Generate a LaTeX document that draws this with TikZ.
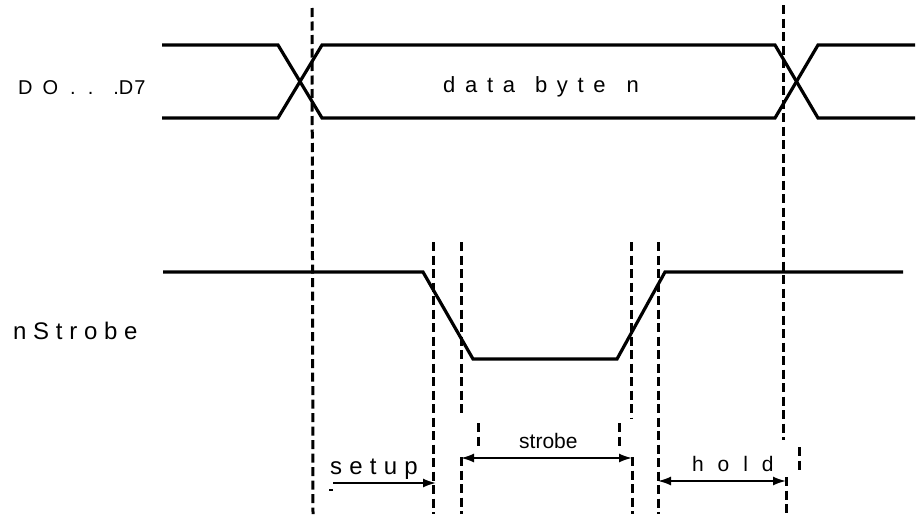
\documentclass[tikz,border=0pt]{standalone}
\usepackage{fontspec}
\setmainfont{Liberation Sans}
\usetikzlibrary{arrows.meta, positioning}

\begin{document}
\begin{tikzpicture}[x=1pt, y=-1pt,
every node/.style={inner sep=0pt, anchor=base west, font=\fontsize{20}{22}\selectfont},
sig/.style={line width=3.2pt, line join=miter},
guide/.style={line width=3pt, dash pattern=on 9pt off 4.5pt},
dim/.style={line width=1.8pt, -{Latex[length=13pt, width=9pt]}},
dimboth/.style={line width=1.8pt, {Latex[length=13pt, width=9pt]}-{Latex[length=13pt, width=9pt]}},
spaced/.style 2 args={font=\fontsize{#1}{24}\selectfont\addfontfeatures{LetterSpace=#2}}
]
\useasboundingbox (0,0) rectangle (923,514);
% Signals
\draw[sig] (162,45) -- (278,45) -- (322,118) -- (775,118) -- (818,45) -- (915,45);
\draw[sig] (162,118) -- (278,118) -- (322,45) -- (775,45) -- (818,118) -- (915,118);
\draw[sig] (163,272) -- (423,272) -- (473,359) -- (617,359) -- (665,272) -- (903,272);
% Guides
\draw[guide] (312,8) -- (313,514);
\draw[guide] (783,5) -- (783,440);
\draw[guide] (786,477) -- (786,514);
\draw[guide] (433,242) -- (433,514);
\draw[guide] (461,242) -- (461,417);
\draw[guide] (461,457) -- (461,514);
\draw[guide] (631,242) -- (631,418);
\draw[guide] (632,457) -- (632,514);
\draw[guide] (658,242) -- (658,514);
\draw[guide] (478,423) -- (478,450);
\draw[guide] (619,423) -- (619,450);
\draw[guide] (799,447) -- (799,473);
% Labels
\node (bus) at (18,94) {D\hspace{10pt}O\hspace{12pt}.\hspace{12pt}.\hspace{20pt}.D\hspace{1pt}7};
\node[spaced={22}{44}] (data) at (443,92) {\hbox{data}\kern20pt\hbox{byte}\kern21pt\hbox{n}};
\node[spaced={24}{28}] (strb) at (13,339) {nStrobe};
% Timing
\coordinate (su1) at (333,483);
\coordinate (su2) at (436,483);
\coordinate (st1) at (461,458);
\coordinate (st2) at (632,458);
\coordinate (ho1) at (658,481);
\coordinate (ho2) at (786,481);
\draw[dim] (su1) -- (su2);
\draw[dimboth] (st1) -- (st2);
\draw[dimboth] (ho1) -- (ho2);
\draw[line width=1.2pt] (329,490) -- (333,490);
\node[spaced={24}{30}] (setup) at (330,474) {setup};
\node[font=\fontsize{21}{22}\selectfont] (strobe) at (519,448) {strobe};
\node[spaced={21}{66}] (hold) at (692,471) {hold};
\end{tikzpicture}
\end{document}
